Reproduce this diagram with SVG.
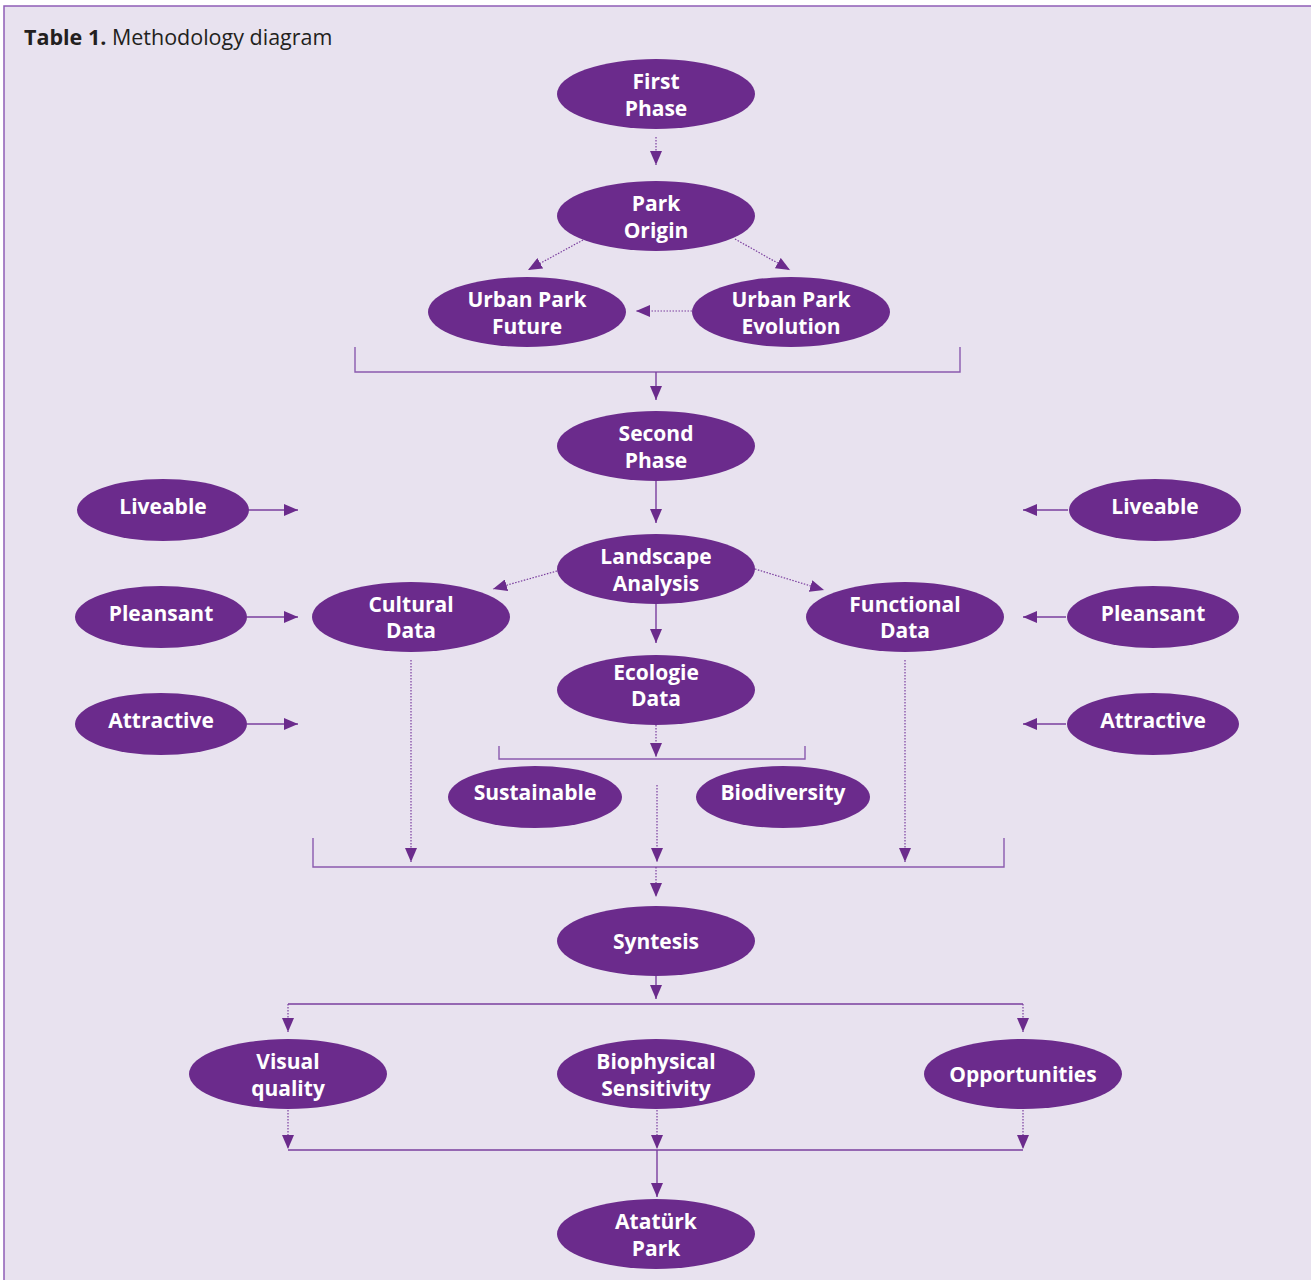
<svg xmlns="http://www.w3.org/2000/svg" width="1311" height="1280" viewBox="0 0 1311 1280">
<defs>
<style>
.n ellipse{fill:#6B2B8C}
.n text{fill:#fff;font-family:"Open Sans","Noto Sans",sans-serif;font-weight:bold;font-size:21px;text-anchor:middle}
.s{stroke:#7A3E9E;stroke-width:1.4;fill:none}
.d{stroke:#7A3E9E;stroke-width:1.2;fill:none;stroke-dasharray:1.5 1.5}
.b{stroke:#8A5AAF;stroke-width:1.4;fill:none}
</style>
<marker id="a" viewBox="0 0 14 12" refX="14" refY="6" markerWidth="14" markerHeight="12" markerUnits="userSpaceOnUse" orient="auto">
<path d="M0,0 L14,6 L0,12 Z" fill="#6B2B8C"/>
</marker>
</defs>
<rect x="0" y="0" width="1311" height="1280" fill="#fff"/>
<rect x="4" y="6" width="1320" height="1290" fill="#E8E2EF" stroke="#8E5DB6" stroke-width="1.5"/>
<text x="24" y="45" font-family="Open Sans,Noto Sans,sans-serif" font-size="21.5" fill="#231F20"><tspan font-weight="bold">Table 1.</tspan> Methodology diagram</text>

<g id="connectors">
<path class="d" d="M656,137 L656,165" marker-end="url(#a)"/>
<path class="d" d="M583,240 L528,270" marker-end="url(#a)"/>
<path class="d" d="M735,239 L790,270" marker-end="url(#a)"/>
<path class="d" d="M692,311 L636,311" marker-end="url(#a)"/>
<path class="b" d="M355,347 V372 H960 V347"/>
<path class="s" d="M656,372 V400" marker-end="url(#a)"/>
<path class="s" d="M656,481 V523" marker-end="url(#a)"/>
<path class="s" d="M249,510 H298" marker-end="url(#a)"/>
<path class="s" d="M247,617 H298" marker-end="url(#a)"/>
<path class="s" d="M247,724 H298" marker-end="url(#a)"/>
<path class="s" d="M1068,510 H1023" marker-end="url(#a)"/>
<path class="s" d="M1066,617 H1023" marker-end="url(#a)"/>
<path class="s" d="M1066,724 H1023" marker-end="url(#a)"/>
<path class="d" d="M557,571 L493,589" marker-end="url(#a)"/>
<path class="d" d="M755,569 L824,590" marker-end="url(#a)"/>
<path class="s" d="M656,604 V643" marker-end="url(#a)"/>
<path class="d" d="M656,725 V757" marker-end="url(#a)"/>
<path class="b" d="M499,746 V759 H805 V746"/>
<path class="d" d="M657,785 V862" marker-end="url(#a)"/>
<path class="d" d="M411,660 V862" marker-end="url(#a)"/>
<path class="d" d="M905,660 V862" marker-end="url(#a)"/>
<path class="b" d="M313,838 V867 H1004 V838"/>
<path class="d" d="M656,867 V897" marker-end="url(#a)"/>
<path class="s" d="M656,976 V999" marker-end="url(#a)"/>
<path class="s" d="M288,1004 H1023"/>
<path class="d" d="M288,1004 V1032" marker-end="url(#a)"/>
<path class="d" d="M1023,1004 V1032" marker-end="url(#a)"/>
<path class="d" d="M288,1110 V1149" marker-end="url(#a)"/>
<path class="d" d="M657,1110 V1149" marker-end="url(#a)"/>
<path class="d" d="M1023,1110 V1149" marker-end="url(#a)"/>
<path class="s" d="M288,1150 H1023"/>
<path class="s" d="M657,1150 V1197" marker-end="url(#a)"/>
</g>

<g id="first-phase" class="n"><ellipse cx="656" cy="94" rx="99" ry="35"/><text x="656" y="89">First</text><text x="656" y="116">Phase</text></g>
<g id="park-origin" class="n"><ellipse cx="656" cy="216" rx="99" ry="35"/><text x="656" y="211">Park</text><text x="656" y="238">Origin</text></g>
<g id="urban-park-future" class="n"><ellipse cx="527" cy="312" rx="99" ry="35"/><text x="527" y="307">Urban Park</text><text x="527" y="334">Future</text></g>
<g id="urban-park-evolution" class="n"><ellipse cx="791" cy="312" rx="99" ry="35"/><text x="791" y="307">Urban Park</text><text x="791" y="334">Evolution</text></g>
<g id="second-phase" class="n"><ellipse cx="656" cy="446" rx="99" ry="35"/><text x="656" y="441">Second</text><text x="656" y="468">Phase</text></g>
<g id="landscape-analysis" class="n"><ellipse cx="656" cy="569" rx="99" ry="35"/><text x="656" y="564">Landscape</text><text x="656" y="591">Analysis</text></g>
<g id="cultural-data" class="n"><ellipse cx="411" cy="617" rx="99" ry="35"/><text x="411" y="612">Cultural</text><text x="411" y="638">Data</text></g>
<g id="functional-data" class="n"><ellipse cx="905" cy="617" rx="99" ry="35"/><text x="905" y="612">Functional</text><text x="905" y="638">Data</text></g>
<g id="ecologie-data" class="n"><ellipse cx="656" cy="690" rx="99" ry="35"/><text x="656" y="680">Ecologie</text><text x="656" y="706">Data</text></g>
<g id="sustainable" class="n"><ellipse cx="535" cy="797" rx="87" ry="31"/><text x="535" y="800">Sustainable</text></g>
<g id="biodiversity" class="n"><ellipse cx="783" cy="797" rx="87" ry="31"/><text x="783" y="800">Biodiversity</text></g>
<g id="liveable-left" class="n"><ellipse cx="163" cy="510" rx="86" ry="31"/><text x="163" y="514">Liveable</text></g>
<g id="pleansant-left" class="n"><ellipse cx="161" cy="617" rx="86" ry="31"/><text x="161" y="621">Pleansant</text></g>
<g id="attractive-left" class="n"><ellipse cx="161" cy="724" rx="86" ry="31"/><text x="161" y="728">Attractive</text></g>
<g id="liveable-right" class="n"><ellipse cx="1155" cy="510" rx="86" ry="31"/><text x="1155" y="514">Liveable</text></g>
<g id="pleansant-right" class="n"><ellipse cx="1153" cy="617" rx="86" ry="31"/><text x="1153" y="621">Pleansant</text></g>
<g id="attractive-right" class="n"><ellipse cx="1153" cy="724" rx="86" ry="31"/><text x="1153" y="728">Attractive</text></g>
<g id="syntesis" class="n"><ellipse cx="656" cy="941" rx="99" ry="35"/><text x="656" y="949">Syntesis</text></g>
<g id="visual-quality" class="n"><ellipse cx="288" cy="1074" rx="99" ry="35"/><text x="288" y="1069">Visual</text><text x="288" y="1096">quality</text></g>
<g id="biophysical-sensitivity" class="n"><ellipse cx="656" cy="1074" rx="99" ry="35"/><text x="656" y="1069">Biophysical</text><text x="656" y="1096">Sensitivity</text></g>
<g id="opportunities" class="n"><ellipse cx="1023" cy="1074" rx="99" ry="35"/><text x="1023" y="1082">Opportunities</text></g>
<g id="ataturk-park" class="n"><ellipse cx="656" cy="1234" rx="99" ry="35"/><text x="656" y="1229">Atatürk</text><text x="656" y="1256">Park</text></g>
</svg>
